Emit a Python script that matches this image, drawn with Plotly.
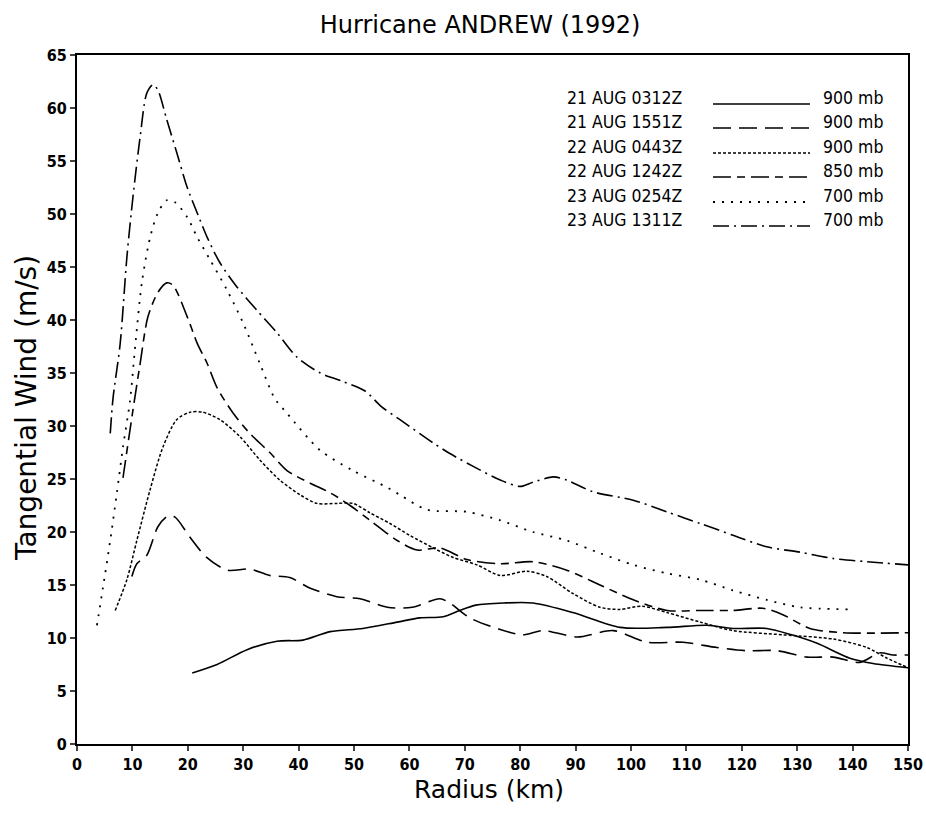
import plotly.graph_objects as go

# ---- data ----
r_0312 = [20.8, 25.3, 30.7, 36.1, 40.8, 45.7, 51.6, 57.8, 61.9, 66.1, 69.1, 72.0, 77.0, 82.3, 89.5, 98.0, 106.5, 113.7, 118.4, 124.5, 129.0, 133.6, 139.5, 143.7, 150.0]
v_0312 = [6.7, 7.5, 8.9, 9.7, 9.8, 10.6, 10.9, 11.5, 11.9, 12.0, 12.6, 13.1, 13.3, 13.3, 12.4, 11.0, 11.0, 11.2, 10.9, 10.9, 10.3, 9.5, 8.1, 7.6, 7.2]

r_1551 = [9.9, 10.8, 12.6, 14.6, 16.4, 17.7, 20.4, 23.4, 27.1, 31.2, 34.8, 38.4, 42.1, 46.9, 51.1, 56.0, 60.5, 65.5, 67.3, 70.9, 76.4, 80.5, 84.1, 90.3, 96.8, 102.9, 109.4, 115.5, 120.9, 126.4, 131.8, 136.5, 141.3, 144.9, 147.3, 150.0]
v_1551 = [15.8, 17.0, 17.8, 20.5, 21.5, 21.4, 19.5, 17.6, 16.4, 16.5, 15.9, 15.7, 14.7, 13.9, 13.7, 12.9, 12.9, 13.7, 13.3, 11.9, 10.8, 10.3, 10.7, 10.1, 10.7, 9.6, 9.6, 9.1, 8.8, 8.8, 8.2, 8.2, 7.7, 8.6, 8.4, 8.4]

r_0443 = [6.9, 9.0, 10.8, 13.2, 15.5, 18.0, 20.4, 22.7, 25.8, 29.4, 33.0, 36.6, 40.3, 43.3, 46.9, 49.8, 52.9, 56.5, 60.0, 64.3, 67.9, 72.2, 76.4, 81.2, 84.8, 89.5, 94.4, 98.0, 102.0, 106.5, 112.5, 118.4, 127.4, 136.5, 142.6, 146.2, 150.0]
v_0443 = [12.6, 15.5, 19.2, 24.0, 28.0, 30.6, 31.3, 31.3, 30.6, 29.0, 26.8, 24.9, 23.5, 22.7, 22.7, 22.7, 21.8, 20.8, 19.7, 18.5, 17.6, 16.9, 15.9, 16.3, 15.8, 14.2, 12.9, 12.7, 13.0, 12.4, 11.5, 10.7, 10.3, 9.9, 9.1, 8.1, 7.2]

r_1242 = [8.3, 10.1, 11.4, 12.8, 14.6, 16.2, 17.3, 19.9, 21.7, 23.5, 25.3, 28.2, 31.2, 34.8, 37.9, 42.1, 45.7, 49.3, 52.9, 57.8, 61.4, 65.5, 70.4, 76.4, 82.3, 88.4, 94.4, 100.4, 106.5, 112.5, 118.4, 123.8, 127.4, 132.3, 138.3, 150.0]
v_1242 = [25.1, 31.5, 35.9, 40.3, 42.6, 43.5, 43.3, 40.3, 37.8, 35.9, 33.6, 31.2, 29.3, 27.5, 25.8, 24.6, 23.7, 22.5, 21.1, 19.2, 18.3, 18.5, 17.4, 17.0, 17.2, 16.4, 15.0, 13.6, 12.6, 12.6, 12.6, 12.8, 12.2, 10.9, 10.5, 10.5]

r_0254 = [3.6, 4.7, 6.0, 7.2, 8.3, 9.6, 10.5, 11.7, 13.2, 14.6, 16.2, 17.7, 19.9, 21.7, 24.0, 27.1, 30.0, 33.0, 35.7, 37.9, 43.9, 49.8, 56.0, 58.3, 63.2, 70.4, 76.4, 82.3, 88.4, 94.4, 100.4, 106.5, 112.5, 118.4, 124.5, 130.5, 139.5]
v_0254 = [11.2, 14.8, 19.2, 23.7, 28.0, 32.5, 37.5, 43.5, 47.8, 50.1, 51.3, 51.1, 49.7, 47.8, 45.7, 42.8, 39.7, 35.9, 32.6, 31.2, 27.7, 25.8, 24.2, 23.5, 22.1, 21.9, 21.1, 20.0, 19.2, 18.0, 16.9, 16.1, 15.5, 14.5, 13.6, 12.9, 12.7]

r_1311 = [6.0, 6.5, 7.8, 9.0, 10.1, 11.4, 12.6, 13.7, 14.6, 16.2, 18.0, 19.9, 21.7, 23.5, 25.8, 28.9, 32.5, 36.1, 39.7, 43.9, 48.0, 52.0, 55.0, 58.3, 64.3, 67.3, 72.2, 76.4, 80.0, 82.3, 86.0, 88.4, 93.1, 100.4, 106.5, 112.5, 118.4, 124.5, 130.5, 136.5, 142.6, 150.0]
v_1311 = [29.3, 32.6, 37.8, 45.9, 51.6, 57.3, 61.4, 62.2, 61.7, 58.9, 55.8, 52.5, 50.1, 47.8, 45.4, 43.1, 40.9, 38.8, 36.5, 35.0, 34.2, 33.3, 31.8, 30.6, 28.4, 27.4, 26.0, 24.9, 24.3, 24.7, 25.2, 24.9, 23.8, 23.0, 21.9, 20.8, 19.7, 18.6, 18.1, 17.5, 17.2, 16.9]

times = ["21 AUG 0312Z", "21 AUG 1551Z", "22 AUG 0443Z", "22 AUG 1242Z", "23 AUG 0254Z", "23 AUG 1311Z"]
levels = ["900 mb", "900 mb", "900 mb", "850 mb", "700 mb", "700 mb"]
radii = [r_0312, r_1551, r_0443, r_1242, r_0254, r_1311]
winds = [v_0312, v_1551, v_0443, v_1242, v_0254, v_1311]

x_ticks = list(range(0, 151, 10))
y_ticks = list(range(0, 66, 5))

# ---- styles ----
dashes = ["solid", "18px,8px", "3px,2px", "18px,6px,8px,6px", "2px,7px", "16px,5px,2px,5px"]
widths = [1.6, 1.6, 1.5, 1.6, 1.8, 1.6]

fig = go.Figure()
for r, v, d, w, t in zip(radii, winds, dashes, widths, times):
    fig.add_trace(go.Scatter(x=r, y=v, mode="lines", name=t,
                             line=dict(color="black", width=w, dash=d, shape="spline", smoothing=0.8),
                             showlegend=False))

L, R, T, B = 77, 18, 55, 69
W, H = 926, 813
pw, ph = W - L - R, H - T - B

def px2paper(px, py):
    return (px - L) / pw, (H - B - py) / ph

tickfont = dict(family="DejaVu Sans Condensed", size=16, color="black", weight="bold")
axis_common = dict(ticks="outside", ticklen=5, tickwidth=1.5, showline=True, linewidth=2,
                   linecolor="black", mirror=True, showgrid=False, zeroline=False,
                   tickfont=tickfont, automargin=False)
fig.update_xaxes(range=[0, 150], tickvals=x_ticks, **axis_common)
fig.update_yaxes(range=[0, 65], tickvals=y_ticks, **axis_common)

# legend drawn as text + line samples
row_y = [98, 122, 147, 171, 196, 220]
legfont = dict(family="DejaVu Sans Condensed", size=17.5, color="black")
for i in range(6):
    xa, ya = px2paper(565, row_y[i])
    fig.add_annotation(x=xa, y=ya, xref="paper", yref="paper", text=times[i], showarrow=False,
                       xanchor="left", yanchor="middle", font=legfont)
    xb, _ = px2paper(821, row_y[i])
    fig.add_annotation(x=xb, y=ya, xref="paper", yref="paper", text=levels[i], showarrow=False,
                       xanchor="left", yanchor="middle", font=legfont)
    x0, y0 = px2paper(713, row_y[i] + 6)
    x1, _ = px2paper(810, row_y[i] + 6)
    fig.add_shape(type="line", xref="paper", yref="paper", x0=x0, x1=x1, y0=y0, y1=y0,
                  line=dict(color="black", width=widths[i], dash=dashes[i]))

# axis titles
xt, yt = px2paper(489, 789)
fig.add_annotation(x=xt, y=yt, xref="paper", yref="paper", text="Radius (km)", showarrow=False,
                   xanchor="center", yanchor="middle",
                   font=dict(family="DejaVu Sans", size=25, color="black"))
xt, yt = px2paper(26, 408)
fig.add_annotation(x=xt, y=yt, xref="paper", yref="paper", text="Tangential Wind (m/s)", showarrow=False,
                   xanchor="center", yanchor="middle", textangle=-90,
                   font=dict(family="DejaVu Sans", size=28, color="black"))

fig.update_layout(
    width=W, height=H,
    margin=dict(l=L, r=R, t=T, b=B, autoexpand=False),
    paper_bgcolor="white", plot_bgcolor="white",
    title=dict(text="Hurricane ANDREW (1992)", x=(480 / W), xanchor="center",
               y=1 - 25 / H, yanchor="middle",
               font=dict(family="DejaVu Sans", size=24, color="black")),
    showlegend=False,
)

fig.write_html("out.html")
